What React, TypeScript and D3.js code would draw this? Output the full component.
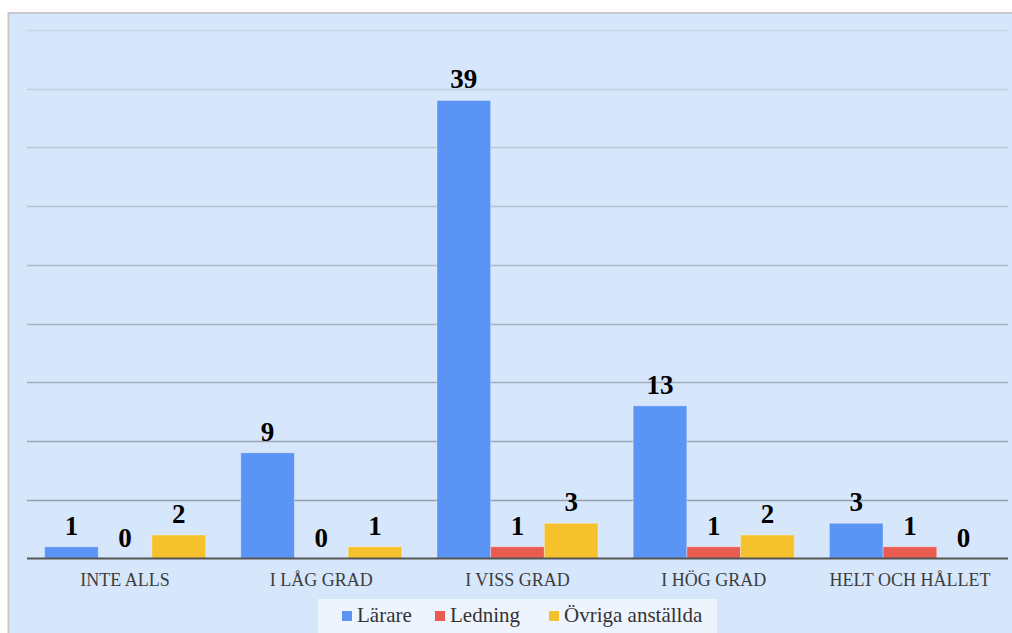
import React from "react";
import * as d3 from "d3";

const categories = ["INTE ALLS", "I LÅG GRAD", "I VISS GRAD", "I HÖG GRAD", "HELT OCH HÅLLET"];
const seriesNames = ["Lärare", "Ledning", "Övriga anställda"];
const larare = [1, 9, 39, 13, 3];
const ledning = [0, 0, 1, 1, 1];
const ovriga = [2, 1, 3, 2, 0];
const yTicks = [5, 10, 15, 20, 25, 30, 35, 40, 45];
const colors = ["#5a94f4", "#ea5b51", "#f5c12c"];

const W = 1012;
const H = 633;
const serif = "'Liberation Serif', 'Times New Roman', serif";

export default function App() {
  const series = [larare, ledning, ovriga];
  const x0 = d3.scaleBand<string>().domain(categories).range([27, 1008]).paddingInner(0.179).paddingOuter(0.0895);
  const x1 = d3.scaleBand<string>().domain(seriesNames).range([0, x0.bandwidth()]).padding(0);
  const y = d3.scaleLinear().domain([0, 45]).range([558.5, 30]);
  const gridColor = d3.scaleLinear<string>().domain([45, 5]).range(["#cad4e2", "#949eac"]).interpolate(d3.interpolateRgb);

  const legendX = [342, 435, 549];

  return (
    <svg width={W} height={H} style={{ position: "absolute", left: 0, top: 0 }}>
      <rect x={0} y={0} width={W} height={H} fill="#ffffff" />
      <rect x={8.5} y={13} width={W + 10} height={H + 10} fill="#d6e6fb" stroke="#c9c9c9" strokeWidth={2} />
      {yTicks.map((t) => (
        <line key={t} x1={27} x2={1008} y1={Math.round(y(t)) + 0.5} y2={Math.round(y(t)) + 0.5} stroke={gridColor(t)} strokeWidth={1.5} />
      ))}
      {categories.map((c, ci) => (
        <g key={c} transform={`translate(${x0(c)},0)`}>
          {seriesNames.map((s, si) => {
            const v = series[si][ci];
            const top = y(v);
            const bx = x1(s)!;
            return (
              <g key={s}>
                {v > 0 && (
                  <rect x={bx} y={top} width={x1.bandwidth()} height={y(0) - top} fill={colors[si]} stroke="rgba(255,255,255,0.35)" strokeWidth={1} />
                )}
                <text x={bx + x1.bandwidth() / 2} y={top - 12} textAnchor="middle" fontFamily={serif} fontWeight="bold" fontSize={27} fill="#000">
                  {v}
                </text>
              </g>
            );
          })}
          <text x={x0.bandwidth() / 2} y={586} textAnchor="middle" fontFamily={serif} fontSize={18} fill="#3c3c3c">
            {c}
          </text>
        </g>
      ))}
      <line x1={27} x2={1008} y1={y(0)} y2={y(0)} stroke="#555" strokeWidth={2} />
      <rect x={318} y={599} width={399} height={40} fill="#eef4fe" />
      {seriesNames.map((s, i) => (
        <g key={s}>
          <rect x={legendX[i]} y={611} width={10} height={10} fill={colors[i]} />
          <text x={legendX[i] + 15} y={622} fontFamily={serif} fontSize={21} fill="#333">
            {s}
          </text>
        </g>
      ))}
    </svg>
  );
}
